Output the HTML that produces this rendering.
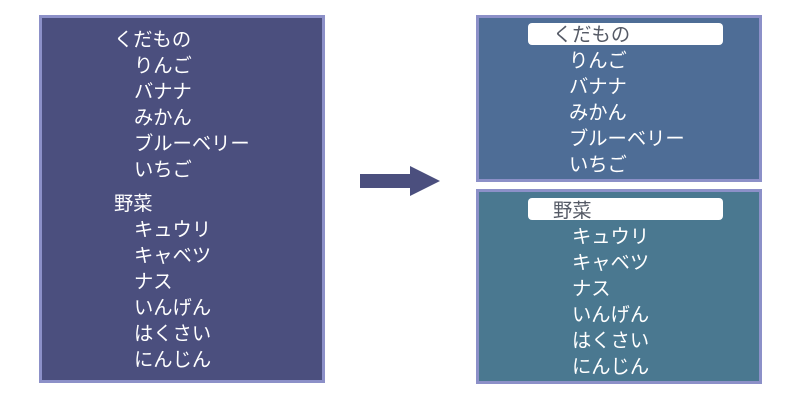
<!DOCTYPE html>
<html><head><meta charset="utf-8"><style>
body{margin:0;width:800px;height:400px;background:#fff;position:relative;overflow:hidden;font-family:"Liberation Sans","Noto Sans CJK JP",sans-serif;}
.box{position:absolute;box-sizing:border-box;border:3px solid #8c90c8;}
.t{position:absolute;font-size:19.3px;line-height:20px;color:#fff;white-space:nowrap;transform:translateY(-8px);}
.lab{position:absolute;background:#fff;border-radius:4px;}
.d{color:#555a66;}
</style></head><body>
<div class="box" style="left:39px;top:15px;width:286px;height:368px;background:#4b4f7e"></div>
<div class="box" style="left:476px;top:15px;width:286px;height:167px;background:#4e6d96"></div>
<div class="box" style="left:476px;top:189px;width:286px;height:195px;background:#4a7890"></div>
<div class="lab" style="left:528px;top:23px;width:195px;height:22px"></div>
<div class="lab" style="left:528px;top:198px;width:195px;height:22px"></div>
<svg style="position:absolute;left:0;top:0" width="800" height="400"><polygon points="360,174 410,174 410,166 440,181 410,196 410,188 360,188" fill="#4b4f7e"/></svg>
<div class="t" style="left:114px;top:39px">くだもの</div>
<div class="t" style="left:134px;top:65px">りんご</div>
<div class="t" style="left:134px;top:91px">バナナ</div>
<div class="t" style="left:134px;top:117px">みかん</div>
<div class="t" style="left:134px;top:143px">ブルーベリー</div>
<div class="t" style="left:134px;top:169px">いちご</div>
<div class="t" style="left:114px;top:203px">野菜</div>
<div class="t" style="left:134px;top:229px">キュウリ</div>
<div class="t" style="left:134px;top:255px">キャベツ</div>
<div class="t" style="left:134px;top:281px">ナス</div>
<div class="t" style="left:134px;top:307px">いんげん</div>
<div class="t" style="left:134px;top:333px">はくさい</div>
<div class="t" style="left:134px;top:359px">にんじん</div>
<div class="t d" style="left:553px;top:34px">くだもの</div>
<div class="t" style="left:569px;top:60px">りんご</div>
<div class="t" style="left:569px;top:86px">バナナ</div>
<div class="t" style="left:569px;top:112px">みかん</div>
<div class="t" style="left:569px;top:138px">ブルーベリー</div>
<div class="t" style="left:569px;top:164px">いちご</div>
<div class="t d" style="left:553px;top:210px">野菜</div>
<div class="t" style="left:572px;top:236px">キュウリ</div>
<div class="t" style="left:572px;top:262px">キャベツ</div>
<div class="t" style="left:572px;top:288px">ナス</div>
<div class="t" style="left:572px;top:314px">いんげん</div>
<div class="t" style="left:572px;top:340px">はくさい</div>
<div class="t" style="left:572px;top:366px">にんじん</div>
</body></html>
